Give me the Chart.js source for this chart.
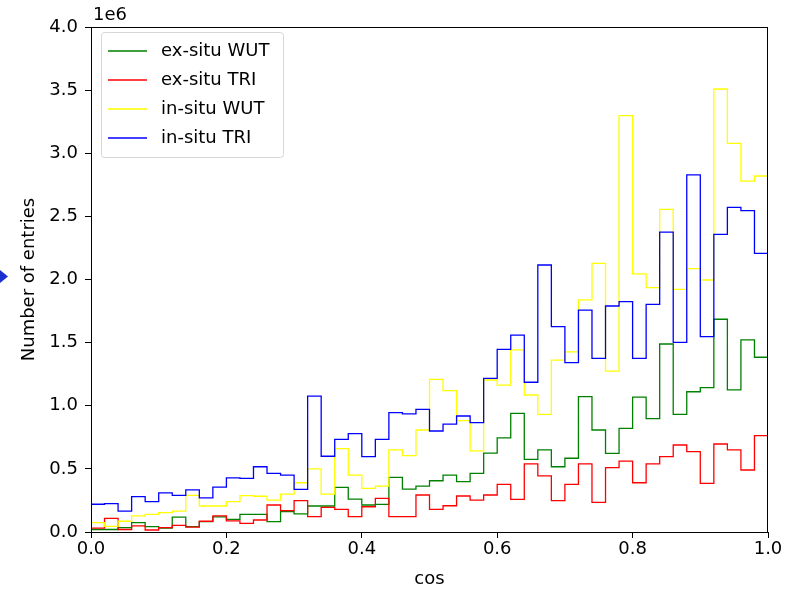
<!DOCTYPE html>
<html>
<head>
<meta charset="utf-8">
<script src="https://cdn.jsdelivr.net/npm/chart.js@4/dist/chart.umd.min.js"></script>
<style>
  html, body { margin: 0; padding: 0; background: #fff; }
  #wrap { width: 794px; height: 590px; position: relative; }
</style>
</head>
<body>
<div id="wrap"><canvas id="histo"></canvas></div>
<script>
// bin contents, units of 1e6, 50 bins over cos in [0, 1]
const exsituWUT = [0.02, 0.02, 0.034, 0.074, 0.042, 0.03, 0.118, 0.042, 0.082, 0.12,
  0.10, 0.14, 0.14, 0.082, 0.161, 0.143, 0.206, 0.206, 0.354, 0.261,
  0.214, 0.219, 0.433, 0.34, 0.364, 0.406, 0.45, 0.399, 0.465, 0.625,
  0.745, 0.94, 0.576, 0.65, 0.517, 0.584, 1.072, 0.808, 0.623, 0.821,
  1.068, 0.898, 1.489, 0.932, 1.111, 1.143, 1.685, 1.125, 1.521, 1.384];
const exsituTRI = [0.03, 0.108, 0.02, 0.048, 0.016, 0.034, 0.052, 0.038, 0.085, 0.127,
  0.088, 0.069, 0.095, 0.214, 0.169, 0.248, 0.121, 0.195, 0.18, 0.121,
  0.20, 0.267, 0.121, 0.121, 0.293, 0.18, 0.208, 0.285, 0.253, 0.293,
  0.378, 0.259, 0.539, 0.444, 0.248, 0.378, 0.539, 0.235, 0.51, 0.562,
  0.39, 0.539, 0.597, 0.689, 0.636, 0.385, 0.697, 0.65, 0.491, 0.763];
const insituWUT = [0.074, 0.045, 0.085, 0.127, 0.14, 0.153, 0.166, 0.29, 0.206, 0.206,
  0.24, 0.288, 0.283, 0.253, 0.30, 0.39, 0.50, 0.30, 0.66, 0.45,
  0.346, 0.364, 0.65, 0.605, 0.808, 1.209, 1.12, 0.882, 0.642, 1.204,
  1.164, 1.442, 1.085, 0.932, 1.362, 1.426, 1.838, 2.128, 1.275, 3.298,
  2.045, 1.935, 2.556, 1.922, 2.086, 1.996, 3.509, 3.079, 2.78, 2.82];
const insituTRI = [0.22, 0.225, 0.166, 0.28, 0.24, 0.31, 0.29, 0.333, 0.27, 0.356,
  0.428, 0.425, 0.517, 0.465, 0.45, 0.338, 1.077, 0.60, 0.734, 0.78,
  0.597, 0.734, 0.945, 0.935, 0.972, 0.80, 0.855, 0.919, 0.866, 1.217,
  1.447, 1.56, 1.186, 2.115, 1.626, 1.341, 1.758, 1.376, 1.79, 1.824,
  1.376, 1.803, 2.376, 1.502, 2.828, 1.547, 2.358, 2.572, 2.545, 2.207];

const seriesNames = ['ex-situ WUT', 'ex-situ TRI', 'in-situ WUT', 'in-situ TRI'];
const seriesColors = ['#008000', '#ff0000', '#ffff00', '#0000ff'];
const yTicks = [0, 0.5, 1, 1.5, 2, 2.5, 3, 3.5, 4];
const xTicks = [0, 0.2, 0.4, 0.6, 0.8, 1.0];

// step outline: one point per left bin edge, plus closing point at x = 1
function toSteps(values){
  const pts = values.map((v, i) => ({x: i / values.length, y: v}));
  pts.push({x: 1, y: values[values.length - 1]});
  return pts;
}

const FONT = 'DejaVu Sans';
const FSIZE = 18;

const frameAndLegend = {
  id: 'frameAndLegend',
  afterDraw(chart){
    const {ctx, chartArea: a} = chart;
    ctx.save();
    // full frame like matplotlib spines
    ctx.strokeStyle = '#000';
    ctx.lineWidth = 1;
    ctx.strokeRect(a.left + 0.5, a.top + 0.5, a.right - a.left - 1, a.bottom - a.top);

    // offset text
    ctx.fillStyle = '#000';
    ctx.font = FSIZE + 'px "' + FONT + '"';
    ctx.textBaseline = 'alphabetic';
    ctx.textAlign = 'left';
    ctx.fillText('1e6', a.left + 2, a.top - 7);

    // legend box
    const lx = a.left + 10, ly = a.top + 5, lw = 182, lh = 125;
    ctx.beginPath();
    ctx.roundRect(lx + 0.5, ly + 0.5, lw, lh, 3);
    ctx.fillStyle = 'rgba(255,255,255,0.8)';
    ctx.fill();
    ctx.strokeStyle = '#d6d6d6';
    ctx.stroke();
    ctx.textBaseline = 'middle';
    seriesNames.forEach((name, i) => {
      const y = ly + 19 + i * 29;
      ctx.strokeStyle = seriesColors[i];
      ctx.lineWidth = 1.3;
      ctx.beginPath();
      ctx.moveTo(lx + 7, y);
      ctx.lineTo(lx + 46, y);
      ctx.stroke();
      ctx.fillStyle = '#000';
      ctx.fillText(name, lx + 60, y);
    });

    // small blue marker cut at the left edge of the picture
    ctx.fillStyle = '#1a2fd0';
    ctx.beginPath();
    ctx.moveTo(0, 270);
    ctx.lineTo(8, 276.5);
    ctx.lineTo(0, 283);
    ctx.closePath();
    ctx.fill();
    ctx.restore();
  }
};

const ctx = document.getElementById('histo').getContext('2d');
const chart = new Chart(ctx, {
  type: 'line',
  data: {
    datasets: [exsituWUT, exsituTRI, insituWUT, insituTRI].map((vals, i) => ({
      label: seriesNames[i],
      data: toSteps(vals),
      borderColor: seriesColors[i],
      borderWidth: 1.3,
      stepped: 'before',
      pointRadius: 0,
      fill: false,
      order: 4 - i
    }))
  },
  options: {
    responsive: true,
    maintainAspectRatio: false,
    animation: false,
    layout: { padding: { left: 0, right: 26, top: 27, bottom: 0 } },
    plugins: {
      legend: { display: false },
      tooltip: { enabled: false }
    },
    scales: {
      x: {
        type: 'linear',
        min: 0, max: 1,
        afterFit: s => { s.height = 58; },
        afterBuildTicks: s => { s.ticks = xTicks.map(v => ({value: v})); },
        ticks: {
          callback: v => v.toFixed(1),
          color: '#000',
          font: { family: FONT, size: FSIZE },
          padding: 1,
          maxRotation: 0
        },
        grid: { drawOnChartArea: false, drawTicks: true, tickLength: 6, color: '#000' },
        border: { display: true, color: '#000', width: 1 },
        title: { display: true, text: 'cos', color: '#000', font: { family: FONT, size: FSIZE }, padding: { top: 0, bottom: 0 } }
      },
      y: {
        type: 'linear',
        min: 0, max: 4,
        afterFit: s => { s.width = 91; },
        afterBuildTicks: s => { s.ticks = yTicks.map(v => ({value: v})); },
        ticks: {
          callback: v => v.toFixed(1),
          color: '#000',
          font: { family: FONT, size: FSIZE },
          padding: 7
        },
        grid: { drawOnChartArea: false, drawTicks: true, tickLength: 6, color: '#000' },
        border: { display: true, color: '#000', width: 1 },
        title: { display: true, text: 'Number of entries', color: '#000', font: { family: FONT, size: FSIZE }, padding: { top: 19, bottom: 0 } }
      }
    }
  },
  plugins: [frameAndLegend]
});
</script>
</body>
</html>
